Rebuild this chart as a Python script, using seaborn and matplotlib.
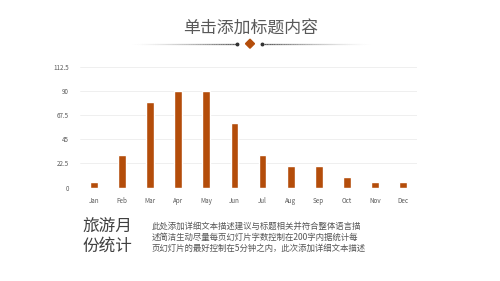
import numpy as np
import pandas as pd
import matplotlib
matplotlib.use("Agg")
import matplotlib.pyplot as plt
import seaborn as sns
from matplotlib.collections import LineCollection
from matplotlib.patches import Polygon

months = ["Jan", "Feb", "Mar", "Apr", "May", "Jun", "Jul", "Aug", "Sep", "Oct", "Nov", "Dec"]
visitors = [5, 30, 80, 90, 90, 60, 30, 20, 20, 10, 5, 5]
yticks = [0, 22.5, 45, 67.5, 90, 112.5]
ytick_labels = ["0", "22.5", "45", "67.5", "90", "112.5"]

title = "单击添加标题内容"
side_title = "旅游月\n份统计"
body = ("此处添加详细文本描述建议与标题相关并符合整体语言描\n"
        "述简洁生动尽量每页幻灯片字数控制在200字内据统计每\n"
        "页幻灯片的最好控制在5分钟之内，此次添加详细文本描述")

sns.set_style("white")
plt.rcParams['font.family'] = ['Noto Sans CJK SC', 'DejaVu Sans']

W, H = 500, 281
fig = plt.figure(figsize=(5, 2.81), dpi=100)

df = pd.DataFrame({"month": months, "value": visitors})
ax = fig.add_axes([80 / W, 1 - 187.7 / H, 337 / W, 121 / H])
sns.barplot(data=df, x="month", y="value", color="#B44D0A", saturation=1,
            width=0.28, ax=ax)
ax.set_xlim(-0.5, 11.5)
ax.set_ylim(0, 112.5)
ax.set_yticks(yticks)
ax.set_yticklabels(ytick_labels)
ax.yaxis.grid(True, color="#EDEDED", linewidth=0.6)
ax.set_axisbelow(True)
for s in ax.spines.values():
    s.set_visible(False)
ax.axhline(0, color="#D9D9D9", linewidth=0.7, zorder=0)
ax.tick_params(axis="both", length=0, labelsize=4.5, labelcolor="#595959", pad=7)
ax.tick_params(axis="y", pad=8)
ax.set_xlabel("")
ax.set_ylabel("")

# overlay for decorations in pixel coordinates
ov = fig.add_axes([0, 0, 1, 1])
ov.set_xlim(0, W)
ov.set_ylim(H, 0)
ov.axis("off")
ov.patch.set_alpha(0)

ov.text(251, 29, title, ha="center", va="center", fontsize=12.2, color="#595959")

# gradient lines
n = 60
yl = 43.7
xs_left = np.linspace(130, 236, n + 1)
segs = [[(xs_left[i], yl), (xs_left[i + 1], yl)] for i in range(n)]
cols = [(0.35, 0.35, 0.35, (i / n) ** 1.5) for i in range(n)]
ov.add_collection(LineCollection(segs, colors=cols, linewidths=0.9))
xs_right = np.linspace(264, 370, n + 1)
segs = [[(xs_right[i], yl), (xs_right[i + 1], yl)] for i in range(n)]
cols = [(0.35, 0.35, 0.35, (1 - i / n) ** 1.5) for i in range(n)]
ov.add_collection(LineCollection(segs, colors=cols, linewidths=0.9))
ov.plot([237.3, 261.5], [yl, yl], "o", color="#333333", markersize=1.8)
ov.add_patch(Polygon([(250, yl - 4.5), (254.5, yl), (250, yl + 4.5), (245.5, yl)],
                     closed=True, color="#B44D0A"))

ov.text(82.5, 237, side_title, ha="left", va="center", fontsize=12,
        color="#404040", linespacing=1.1)
ov.text(151.5, 237, body, ha="left", va="center", fontsize=6.05,
        color="#555555", linespacing=1.3)

fig.savefig("out.png", dpi=100)
